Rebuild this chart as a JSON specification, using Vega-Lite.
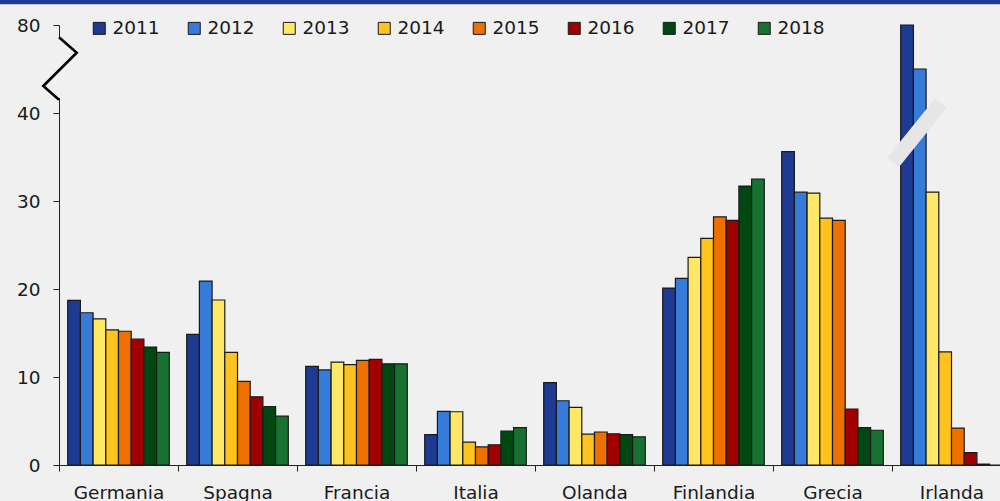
{
  "$schema": "https://vega.github.io/schema/vega-lite/v6.json",
  "autosize": {"type": "none"},
  "padding": {"left": 59, "top": 25, "right": 0, "bottom": 36},
  "width": 941,
  "height": 440,
  "background": "#f0f0f0",
  "config": {
    "view": {"stroke": null},
    "font": "DejaVu Sans",
    "axis": {"labelFont": "DejaVu Sans", "labelFontSize": 18.5, "labelColor": "#1a1a1a", "domainColor": "#222222", "tickColor": "#222222", "tickSize": 6, "grid": false, "title": null}
  },
  "datasets": {
    "bars": [
      {"country": "Germania", "year": "2011", "value": 18.7},
      {"country": "Germania", "year": "2012", "value": 17.3},
      {"country": "Germania", "year": "2013", "value": 16.6},
      {"country": "Germania", "year": "2014", "value": 15.35},
      {"country": "Germania", "year": "2015", "value": 15.2},
      {"country": "Germania", "year": "2016", "value": 14.3},
      {"country": "Germania", "year": "2017", "value": 13.4},
      {"country": "Germania", "year": "2018", "value": 12.8},
      {"country": "Spagna", "year": "2011", "value": 14.85},
      {"country": "Spagna", "year": "2012", "value": 20.9},
      {"country": "Spagna", "year": "2013", "value": 18.75},
      {"country": "Spagna", "year": "2014", "value": 12.8},
      {"country": "Spagna", "year": "2015", "value": 9.5},
      {"country": "Spagna", "year": "2016", "value": 7.75},
      {"country": "Spagna", "year": "2017", "value": 6.65},
      {"country": "Spagna", "year": "2018", "value": 5.55},
      {"country": "Francia", "year": "2011", "value": 11.2},
      {"country": "Francia", "year": "2012", "value": 10.8},
      {"country": "Francia", "year": "2013", "value": 11.7},
      {"country": "Francia", "year": "2014", "value": 11.4},
      {"country": "Francia", "year": "2015", "value": 11.9},
      {"country": "Francia", "year": "2016", "value": 12.0},
      {"country": "Francia", "year": "2017", "value": 11.5},
      {"country": "Francia", "year": "2018", "value": 11.5},
      {"country": "Italia", "year": "2011", "value": 3.45},
      {"country": "Italia", "year": "2012", "value": 6.1},
      {"country": "Italia", "year": "2013", "value": 6.05},
      {"country": "Italia", "year": "2014", "value": 2.6},
      {"country": "Italia", "year": "2015", "value": 2.05},
      {"country": "Italia", "year": "2016", "value": 2.3},
      {"country": "Italia", "year": "2017", "value": 3.85},
      {"country": "Italia", "year": "2018", "value": 4.25},
      {"country": "Olanda", "year": "2011", "value": 9.35},
      {"country": "Olanda", "year": "2012", "value": 7.3},
      {"country": "Olanda", "year": "2013", "value": 6.55},
      {"country": "Olanda", "year": "2014", "value": 3.5},
      {"country": "Olanda", "year": "2015", "value": 3.75},
      {"country": "Olanda", "year": "2016", "value": 3.55},
      {"country": "Olanda", "year": "2017", "value": 3.45},
      {"country": "Olanda", "year": "2018", "value": 3.2},
      {"country": "Finlandia", "year": "2011", "value": 20.1},
      {"country": "Finlandia", "year": "2012", "value": 21.2},
      {"country": "Finlandia", "year": "2013", "value": 23.6},
      {"country": "Finlandia", "year": "2014", "value": 25.75},
      {"country": "Finlandia", "year": "2015", "value": 28.2},
      {"country": "Finlandia", "year": "2016", "value": 27.8},
      {"country": "Finlandia", "year": "2017", "value": 31.7},
      {"country": "Finlandia", "year": "2018", "value": 32.5},
      {"country": "Grecia", "year": "2011", "value": 35.6},
      {"country": "Grecia", "year": "2012", "value": 31.0},
      {"country": "Grecia", "year": "2013", "value": 30.9},
      {"country": "Grecia", "year": "2014", "value": 28.05},
      {"country": "Grecia", "year": "2015", "value": 27.8},
      {"country": "Grecia", "year": "2016", "value": 6.35},
      {"country": "Grecia", "year": "2017", "value": 4.25},
      {"country": "Grecia", "year": "2018", "value": 3.95},
      {"country": "Irlanda", "year": "2011", "value": 50},
      {"country": "Irlanda", "year": "2012", "value": 45},
      {"country": "Irlanda", "year": "2013", "value": 31.0},
      {"country": "Irlanda", "year": "2014", "value": 12.85},
      {"country": "Irlanda", "year": "2015", "value": 4.2},
      {"country": "Irlanda", "year": "2016", "value": 1.4},
      {"country": "Irlanda", "year": "2017", "value": 0.1},
      {"country": "Irlanda", "year": "2018", "value": 0}
    ],
    "zigzag": [
      {"pos": 0.0, "value": 48.6, "order": 1},
      {"pos": 0.149, "value": 46.85, "order": 2},
      {"pos": -0.132, "value": 43.07, "order": 3},
      {"pos": 0.0, "value": 41.5, "order": 4}
    ],
    "gap": [
      {"pos": 0.0, "value": 48.4, "value2": 41.7}
    ],
    "slash": [
      {"pos": 7.01, "value": 34.4, "order": 1},
      {"pos": 7.41, "value": 41.1, "order": 2}
    ],
    "stripe": [
      {"pos": -0.6, "pos2": 8.1, "value": 52.6}
    ]
  },
  "layer": [
    {
      "data": {"name": "bars"},
      "mark": {"type": "bar", "stroke": "#1a1a1a", "strokeWidth": 1.2},
      "encoding": {
        "x": {
          "field": "country", "type": "nominal", "sort": null,
          "scale": {"range": [0, 952], "paddingInner": 0, "paddingOuter": 0},
          "axis": {"tickBand": "extent", "labelAngle": 0, "labelPadding": 12, "domainWidth": 1}
        },
        "xOffset": {"field": "year", "type": "nominal", "scale": {"paddingInner": 0, "paddingOuter": 0.685}},
        "y": {
          "field": "value", "type": "quantitative",
          "scale": {"domain": [0, 50], "nice": false},
          "axis": {"values": [0, 10, 20, 30, 40, 50], "labelExpr": "datum.value == 50 ? '80' : datum.label", "labelPadding": 13}
        },
        "color": {
          "field": "year", "type": "nominal",
          "scale": {"domain": ["2011", "2012", "2013", "2014", "2015", "2016", "2017", "2018"], "range": ["#1f3a93", "#377bd8", "#ffe866", "#ffc21e", "#ee7000", "#a00000", "#004712", "#177130"]},
          "legend": {
            "orient": "none", "direction": "horizontal", "columns": 8, "title": null,
            "legendX": 31, "legendY": -6, "padding": 0,
            "symbolType": "square", "symbolSize": 144, "symbolStrokeColor": "#1a1a1a", "symbolStrokeWidth": 1, "symbolOpacity": 1,
            "labelFont": "DejaVu Sans", "labelFontSize": 18.5, "labelColor": "#1a1a1a", "labelOffset": 4, "columnPadding": 25
          }
        }
      }
    },
    {
      "data": {"name": "slash"},
      "mark": {"type": "line", "color": "#e6e6e6", "strokeWidth": 15, "strokeCap": "butt"},
      "encoding": {
        "x": {"field": "pos", "type": "quantitative", "scale": {"domain": [0, 8], "range": [0, 952], "nice": false, "zero": false}, "axis": null},
        "y": {"field": "value", "type": "quantitative"},
        "order": {"field": "order"}
      }
    },
    {
      "data": {"name": "gap"},
      "mark": {"type": "rule", "color": "#f0f0f0", "strokeWidth": 4},
      "encoding": {
        "x": {"field": "pos", "type": "quantitative", "scale": {"domain": [0, 8], "range": [0, 952], "nice": false, "zero": false}, "axis": null},
        "y": {"field": "value", "type": "quantitative"},
        "y2": {"field": "value2"}
      }
    },
    {
      "data": {"name": "zigzag"},
      "mark": {"type": "line", "color": "#000000", "strokeWidth": 2.6, "strokeJoin": "miter"},
      "encoding": {
        "x": {"field": "pos", "type": "quantitative", "scale": {"domain": [0, 8], "range": [0, 952], "nice": false, "zero": false}, "axis": null},
        "y": {"field": "value", "type": "quantitative"},
        "order": {"field": "order"}
      }
    },
    {
      "data": {"name": "stripe"},
      "mark": {"type": "rule", "color": "#1f3a93", "strokeWidth": 4.5},
      "encoding": {
        "x": {"field": "pos", "type": "quantitative", "scale": {"domain": [0, 8], "range": [0, 952], "nice": false, "zero": false}, "axis": null},
        "x2": {"field": "pos2"},
        "y": {"field": "value", "type": "quantitative"}
      }
    }
  ],
  "resolve": {"scale": {"x": "independent"}}
}
